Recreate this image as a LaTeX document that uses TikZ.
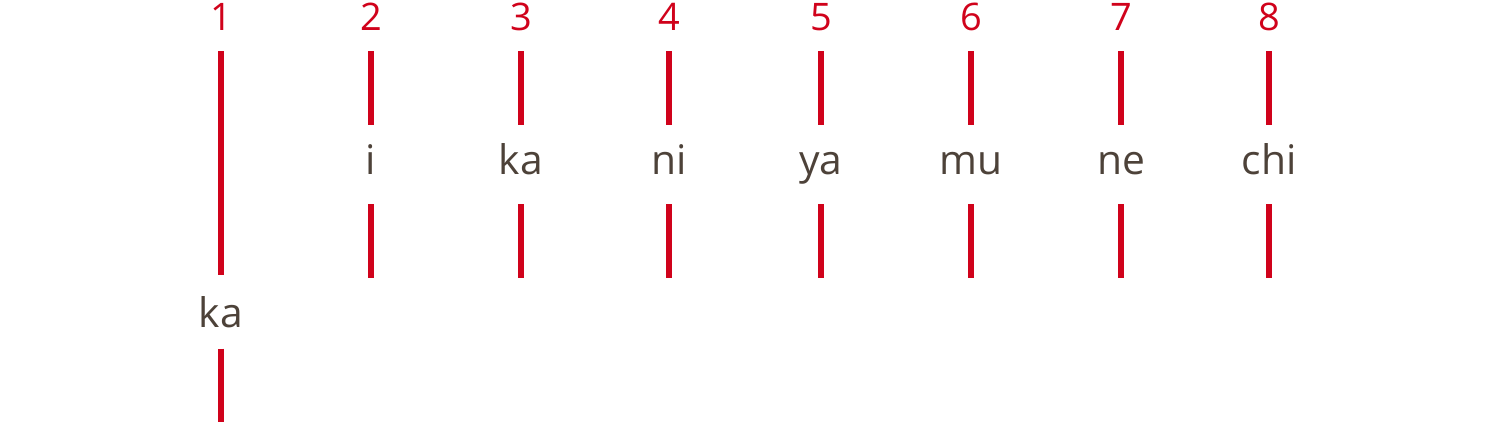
\documentclass[tikz,border=0pt]{standalone}
\usepackage{fontspec}
\setmainfont{Open Sans}
\definecolor{barred}{RGB}{208,2,27}
\definecolor{sylbrown}{RGB}{77,66,57}

\begin{document}
\begin{tikzpicture}[bar/.style={draw=barred,line width=1.7pt},num/.style={anchor=base,text=barred,font=\fontsize{10.8}{13}\selectfont,inner sep=0pt,text depth=0pt,outer ysep=0.21cm},syl/.style={anchor=base,text=sylbrown,font=\fontsize{11.6}{14}\selectfont,inner sep=0pt,text height=0.31cm,text depth=0.12cm,outer ysep=0.18cm},lowsyl/.style={syl,text depth=0pt,outer ysep=0.215cm}]
\useasboundingbox (0,0) rectangle (15,4.23);
\node[num] at (2.21, 3.93) (n_1) {1};
        \node[num] at (3.71, 3.93) (n_2) {2};
        \node[num] at (5.21, 3.93) (n_3) {3};
        \node[num] at (6.69, 3.93) (n_4) {4};
        \node[num] at (8.21, 3.93) (n_5) {5};
        \node[num] at (9.71, 3.93) (n_6) {6};
        \node[num] at (11.21, 3.93) (n_7) {7};
        \node[num] at (12.69, 3.93) (n_8) {8};
        \node[lowsyl] at (2.21, 0.96) (s_1) {ka};
        \node[syl] at (3.71, 2.49) (s_2) {i};
        \node[syl] at (5.21, 2.49) (s_3) {ka};
        \node[syl] at (6.69, 2.49) (s_4) {ni};
        \node[syl] at (8.21, 2.49) (s_5) {ya};
        \node[syl] at (9.71, 2.49) (s_6) {mu};
        \node[syl] at (11.21, 2.49) (s_7) {ne};
        \node[syl] at (12.69, 2.49) (s_8) {chi};
        \coordinate (e_1) at (2.21, 0.01);
        \coordinate (e_2) at (3.71, 1.45);
        \coordinate (e_3) at (5.21, 1.45);
        \coordinate (e_4) at (6.69, 1.45);
        \coordinate (e_5) at (8.21, 1.45);
        \coordinate (e_6) at (9.71, 1.45);
        \coordinate (e_7) at (11.21, 1.45);
        \coordinate (e_8) at (12.69, 1.45);
        \path[bar]
            (n_1) edge (s_1) (s_1) edge (e_1)
            (n_2) edge (s_2) (s_2) edge (e_2)
            (n_3) edge (s_3) (s_3) edge (e_3)
            (n_4) edge (s_4) (s_4) edge (e_4)
            (n_5) edge (s_5) (s_5) edge (e_5)
            (n_6) edge (s_6) (s_6) edge (e_6)
            (n_7) edge (s_7) (s_7) edge (e_7)
            (n_8) edge (s_8) (s_8) edge (e_8);
\end{tikzpicture}
\end{document}
